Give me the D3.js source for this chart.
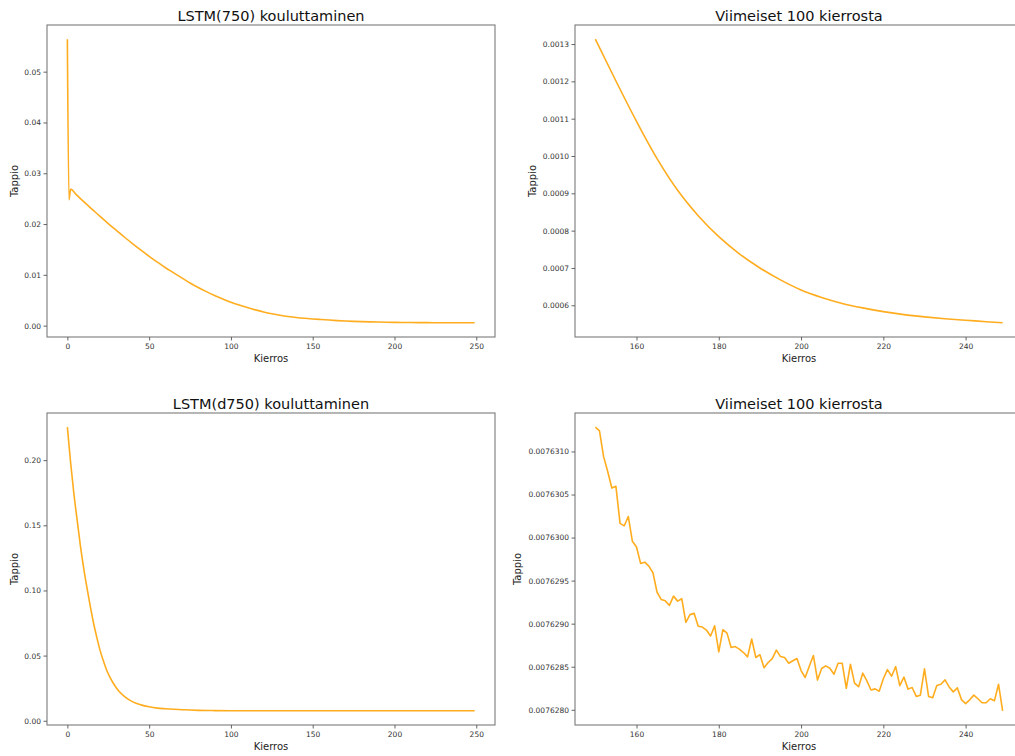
<!DOCTYPE html>
<html><head><meta charset="utf-8">
<script src="https://cdn.jsdelivr.net/npm/d3@7/dist/d3.min.js"></script>
<style>
body{margin:0;background:#fff}
svg{display:block}
text{font-family:"DejaVu Sans",sans-serif}
</style>
</head><body>
<svg id="chart" width="1015" height="756"></svg>
<script>
// ---------- data ----------
const titles = ["LSTM(750) kouluttaminen", "Viimeiset 100 kierrosta", "LSTM(d750) kouluttaminen", "Viimeiset 100 kierrosta"];
const xLabel = "Kierros";
const yLabel = "Tappio";

// LSTM(750): epoch -> loss
const epochs750 = [0,1,2,5,10,15,20,25,30,35,40,45,50,55,60,65,70,75,80,85,90,95,100,105,110,115,120,125,130,135,140,145,
  150,155,160,165,170,175,180,185,190,195,200,205,210,215,220,225,230,235,240,245,249];
const loss750 = [0.0564,0.0248,0.0269,0.02595,0.0244,0.02295,0.0215,0.0201,0.01875,0.0174,0.0161,0.01485,0.01365,0.0125,0.0114,0.0104,0.0094,0.0084,0.0075,0.0067,0.00595,0.00525,0.0046,0.00405,0.00355,0.0031,0.0027,0.00235,0.00205,0.0018,0.0016,0.00144,
  0.001313,0.001201,0.001093,0.000993,0.000908,0.000840,0.000784,0.000738,0.000700,0.000668,0.000641,0.000621,0.000605,0.000593,0.000583,0.000575,0.000569,0.000564,0.000560,0.000556,0.000553];

// LSTM(d750): first 150 epochs (sampled) and the last 100 epochs (every epoch)
const epochsD750Early = [0,2,4,6,8,10,12,14,16,18,20,22,24,26,28,30,32,35,40,45,50,55,60,65,70,75,80,90,100,120,145];
const lossD750Early = [0.2253,0.198,0.174,0.154,0.134,0.117,0.102,0.088,0.075,0.064,0.054,0.046,0.039,0.0335,0.0290,0.0252,0.0220,0.0185,0.0145,0.0122,0.0107,0.0097,0.0092,0.0088,0.0085,0.0082,0.0080,0.0078,0.0077,0.00765,0.007632];
const epochsD750Last = d3.range(150, 250);
const lossD750Last = [
  0.007631282,0.007631239,0.007630940,0.007630768,0.007630575,0.007630595,0.007630165,0.007630135,0.007630245,0.007629957,
  0.007629890,0.007629700,0.007629714,0.007629668,0.007629591,0.007629365,0.007629282,0.007629265,0.007629212,0.007629320,
  0.007629262,0.007629290,0.007629015,0.007629105,0.007629120,0.007628970,0.007628961,0.007628926,0.007628857,0.007628975,
  0.007628672,0.007628930,0.007628890,0.007628723,0.007628734,0.007628705,0.007628665,0.007628614,0.007628822,0.007628607,
  0.007628640,0.007628488,0.007628549,0.007628595,0.007628693,0.007628618,0.007628607,0.007628541,0.007628570,0.007628595,
  0.007628455,0.007628375,0.007628505,0.007628630,0.007628345,0.007628479,0.007628510,0.007628483,0.007628413,0.007628541,
  0.007628541,0.007628250,0.007628529,0.007628310,0.007628268,0.007628425,0.007628336,0.007628230,0.007628243,0.007628216,
  0.007628360,0.007628467,0.007628390,0.007628502,0.007628280,0.007628380,0.007628240,0.007628259,0.007628155,0.007628170,
  0.007628475,0.007628155,0.007628141,0.007628282,0.007628297,0.007628347,0.007628265,0.007628208,0.007628254,0.007628118,
  0.007628072,0.007628116,0.007628170,0.007628128,0.007628082,0.007628082,0.007628128,0.007628104,0.007628297,0.007627988];

// tick values
const xTicksFull = [0, 50, 100, 150, 200, 250];
const xTicksLast = [160, 180, 200, 220, 240];
const yTicks750 = [0, 0.01, 0.02, 0.03, 0.04, 0.05];
const yTicks750Last = [0.0006, 0.0007, 0.0008, 0.0009, 0.0010, 0.0011, 0.0012, 0.0013];
const yTicksD750 = [0, 0.05, 0.10, 0.15, 0.20];
const yTicksD750Last = [0.0076280, 0.0076285, 0.0076290, 0.0076295, 0.0076300, 0.0076305, 0.0076310];

// ---------- build panel data ----------
const s750 = epochs750.map((e, i) => ({x: e, y: loss750[i]}));
const s750Last = s750.filter(d => d.x >= 150);
const sD750Last = epochsD750Last.map((e, i) => ({x: e, y: lossD750Last[i]}));
const sD750 = epochsD750Early.map((e, i) => ({x: e, y: lossD750Early[i]})).concat(sD750Last);

const W = 448, H = 312;
const panels = [
  {data: s750, left: 47, top: 25, xt: xTicksFull, yt: yTicks750, yf: ".2f", curve: d3.curveMonotoneX, ylabOff: 33},
  {data: s750Last, left: 575, top: 25, xt: xTicksLast, yt: yTicks750Last, yf: ".4f", curve: d3.curveMonotoneX, ylabOff: 43},
  {data: sD750, left: 47, top: 413, xt: xTicksFull, yt: yTicksD750, yf: ".2f", curve: d3.curveMonotoneX, ylabOff: 33},
  {data: sD750Last, left: 575, top: 413, xt: xTicksLast, yt: yTicksD750Last, yf: ".7f", curve: d3.curveLinear, ylabOff: 58}
];

const svg = d3.select("#chart");
const pad = ext => { const r = ext[1] - ext[0]; return [ext[0] - 0.05 * r, ext[1] + 0.05 * r]; };

panels.forEach((p, i) => {
  const g = svg.append("g").attr("transform", `translate(${p.left},${p.top})`);
  const x = d3.scaleLinear().domain(pad(d3.extent(p.data, d => d.x))).range([0, W]);
  const y = d3.scaleLinear().domain(pad(d3.extent(p.data, d => d.y))).range([H, 0]);

  // line
  g.append("path").datum(p.data)
    .attr("fill", "none").attr("stroke", "#FFAD1F").attr("stroke-width", 1.6)
    .attr("stroke-linejoin", "round")
    .attr("d", d3.line().x(d => x(d.x)).y(d => y(d.y)).curve(p.curve));

  // frame
  g.append("rect").attr("x", 0).attr("y", 0).attr("width", W).attr("height", H)
    .attr("fill", "none").attr("stroke", "#7a7a7a").attr("stroke-width", 1.1);

  // axes
  const xa = g.append("g").attr("transform", `translate(0,${H})`)
    .call(d3.axisBottom(x).tickValues(p.xt).tickFormat(d3.format("d")).tickSize(3.5).tickPadding(3));
  const ya = g.append("g")
    .call(d3.axisLeft(y).tickValues(p.yt).tickFormat(d3.format(p.yf)).tickSize(3.5).tickPadding(2.5));
  [xa, ya].forEach(a => {
    a.select(".domain").remove();
    a.selectAll(".tick line").attr("stroke", "#555").attr("stroke-width", 0.9);
    a.selectAll(".tick text").attr("fill", "#333").style("font-size", "7.5px").style("font-family", '"DejaVu Sans",sans-serif');
  });

  // title
  g.append("text").attr("x", W / 2).attr("y", -4.5).attr("text-anchor", "middle")
    .style("font-size", "14.5px").attr("fill", "#111").text(titles[i]);
  // x label
  g.append("text").attr("x", W / 2).attr("y", H + 24.5).attr("text-anchor", "middle")
    .style("font-size", "10px").attr("fill", "#222").text(xLabel);
  // y label
  g.append("text").attr("transform", `translate(${-p.ylabOff},${H / 2}) rotate(-90)`)
    .attr("text-anchor", "middle").attr("dy", "0.35em")
    .style("font-size", "10px").attr("fill", "#222").text(yLabel);
});
</script>
</body></html>
